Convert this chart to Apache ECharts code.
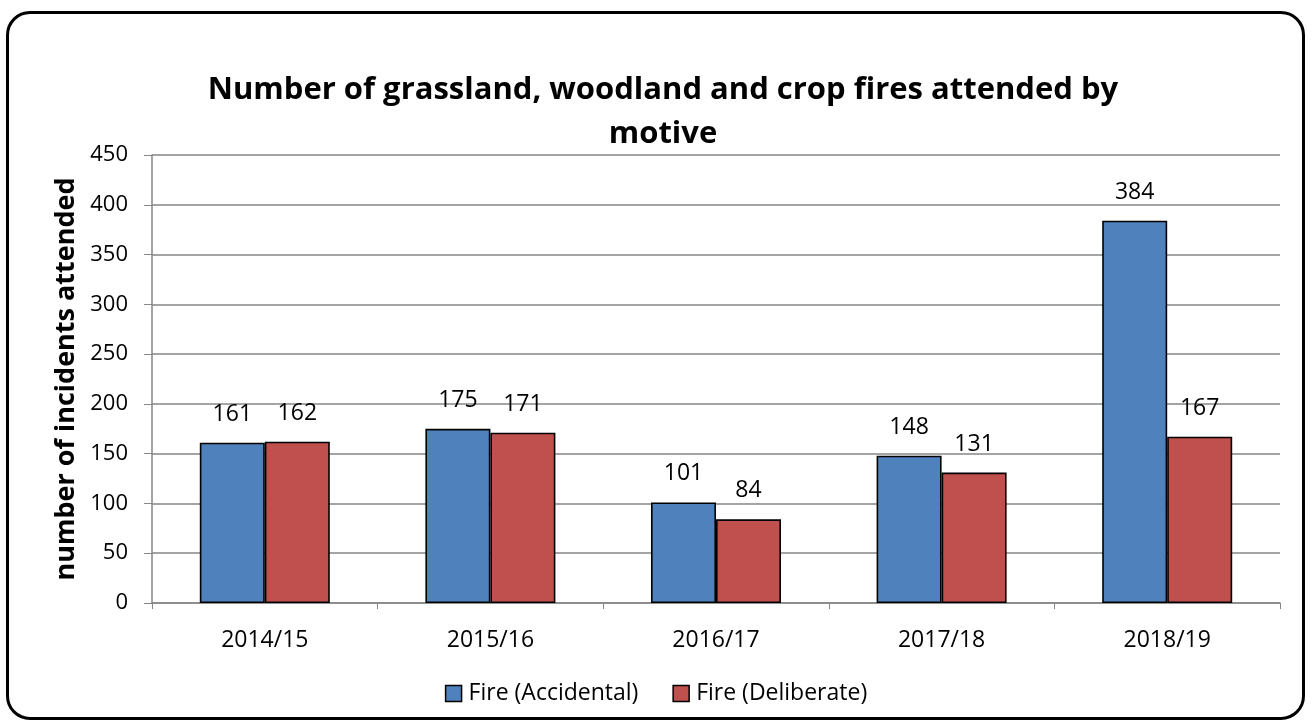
<!DOCTYPE html>
<html>
<head>
<meta charset="utf-8">
<script src="https://cdn.jsdelivr.net/npm/echarts@6/dist/echarts.min.js"></script>
<style>
  html, body { margin: 0; padding: 0; background: #fff; }
  #frame {
    position: absolute; left: 6px; top: 11px; width: 1299px; height: 709px;
    border: 3px solid #000; border-radius: 24px; box-sizing: border-box;
  }
  #chart { position: absolute; left: 0; top: 0; width: 1312px; height: 727px; }
</style>
</head>
<body>
<div id="frame"></div>
<div id="chart"></div>
<script>
/* ── Data ─────────────────────────────────────────────────────────── */
const years = ['2014/15', '2015/16', '2016/17', '2017/18', '2018/19'];
const accidental = [161, 175, 101, 148, 384];
const deliberate = [162, 171, 84, 131, 167];
const seriesNames = ['Fire (Accidental)', 'Fire (Deliberate)'];

const FONT = '"Open Sans", "Noto Sans", sans-serif';

/* ── Chart ────────────────────────────────────────────────────────── */
const chart = echarts.init(document.getElementById('chart'), null, { renderer: 'canvas' });

function barSeries(name, data, color) {
    return {
        name: name,
        type: 'bar',
        data: data,
        barWidth: 65,
        barGap: '0%',
        itemStyle: { color: color, borderColor: '#000', borderWidth: 1.6 },
        label: {
            show: true,
            position: 'top',
            distance: 17,
            color: '#000',
            fontFamily: FONT,
            fontSize: 23
        },
        emphasis: { disabled: true }
    };
}

chart.setOption({
    animation: false,
    textStyle: { fontFamily: FONT },
    title: {
        text: 'Number of grassland, woodland and crop fires attended by\nmotive',
        left: 658,
        top: 63,
        textAlign: 'center',
        textStyle: { fontFamily: FONT, fontSize: 31, fontWeight: 'bold', color: '#000', lineHeight: 44 }
    },
    legend: {
        bottom: 17,
        left: 'center',
        itemWidth: 16,
        itemHeight: 16,
        itemGap: 34,
        icon: 'rect',
        itemStyle: { borderColor: '#000', borderWidth: 1.5 },
        textStyle: { fontFamily: FONT, fontSize: 23, color: '#000', padding: [0, 0, 0, 2] },
        data: seriesNames
    },
    grid: { left: 152, right: 32, top: 155, bottom: 124 },
    xAxis: {
        type: 'category',
        data: years,
        axisLine: { lineStyle: { color: '#868686', width: 1.5 } },
        axisTick: { show: true, length: 6, lineStyle: { color: '#868686' } },
        axisLabel: { color: '#000', fontFamily: FONT, fontSize: 23, margin: 26 }
    },
    yAxis: {
        type: 'value',
        min: 0,
        max: 450,
        interval: 50,
        name: 'number of incidents attended',
        nameLocation: 'middle',
        nameGap: 72,
        nameTextStyle: { fontFamily: FONT, fontSize: 27, fontWeight: 'bold', color: '#000' },
        axisLine: { show: true, lineStyle: { color: '#868686', width: 1.5 } },
        axisTick: { show: true, length: 8, lineStyle: { color: '#868686' } },
        axisLabel: { color: '#000', fontFamily: FONT, fontSize: 22, margin: 24 },
        splitLine: { lineStyle: { color: '#868686', width: 1.5 } }
    },
    series: [
        barSeries(seriesNames[0], accidental, '#4f81bd'),
        barSeries(seriesNames[1], deliberate, '#c0504d')
    ]
});
</script>
</body>
</html>
